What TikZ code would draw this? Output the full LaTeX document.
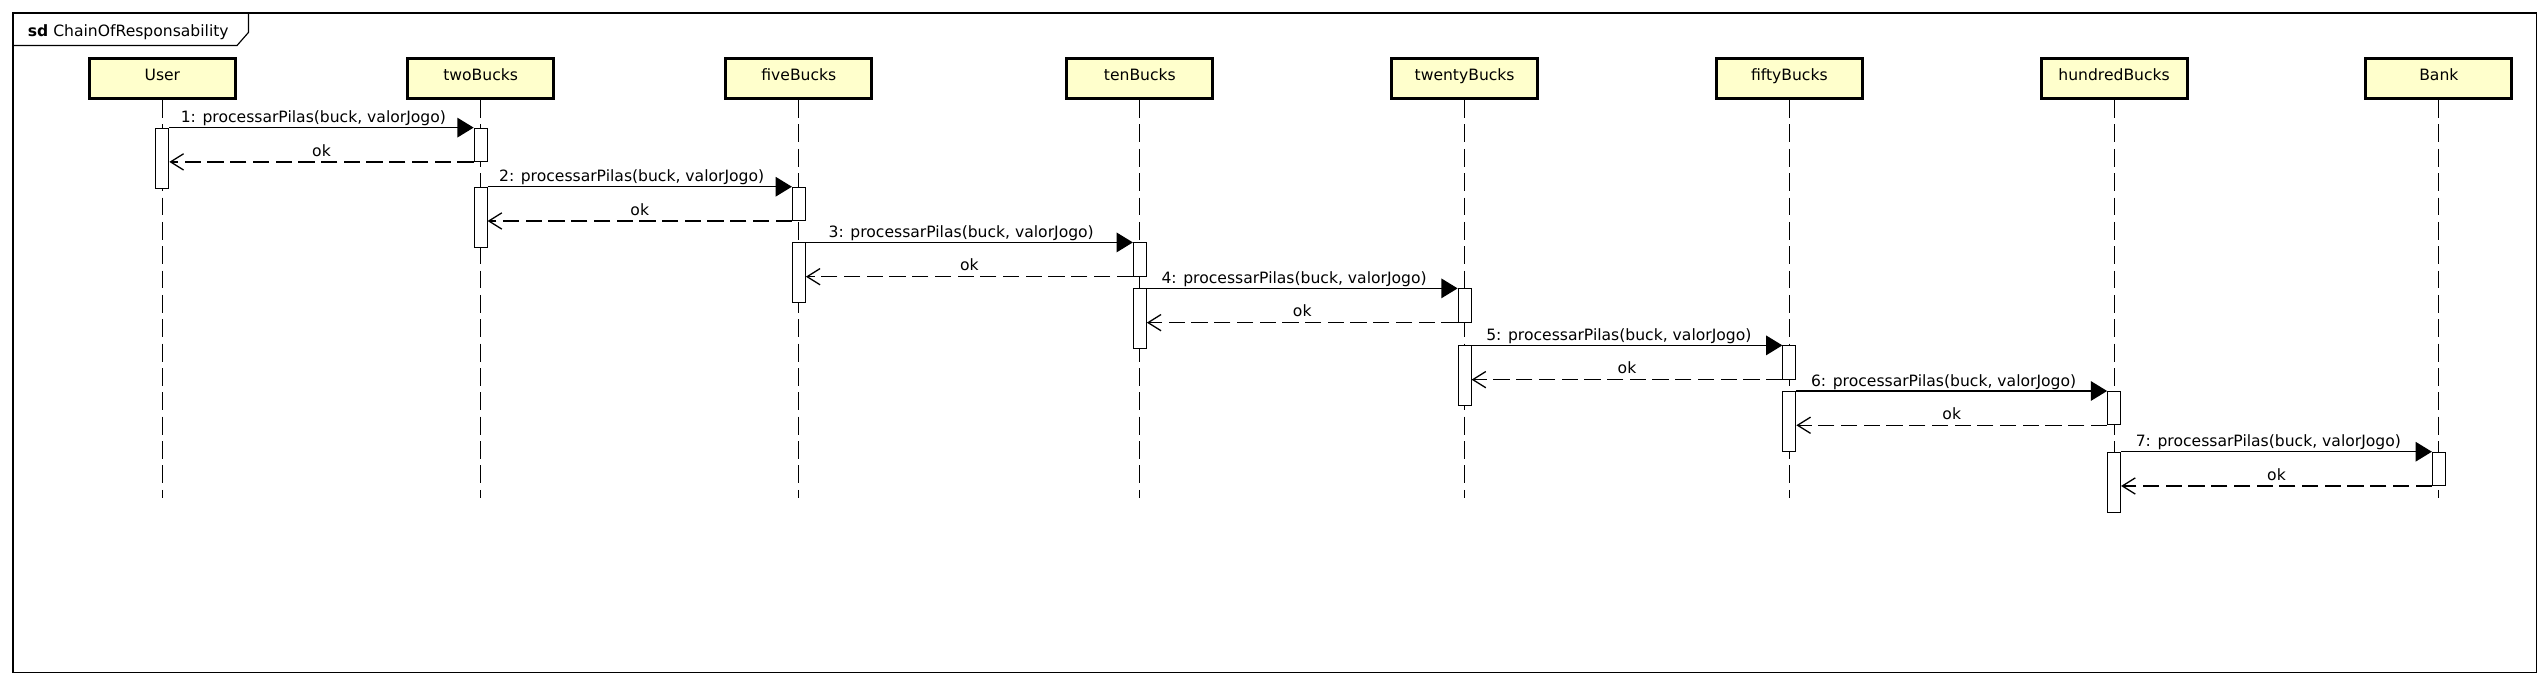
\documentclass[tikz,border=0pt]{standalone}
\usepackage{fontspec}
\setmainfont{DejaVu Sans}
\usetikzlibrary{arrows.meta}
\definecolor{headfill}{HTML}{FFFFCC}
\begin{document}
\begin{tikzpicture}[x=1pt,y=-1pt,
  every node/.style={font=\fontsize{9.6}{11}\selectfont, inner sep=0pt},
  headbox/.style={draw, line width=1.8pt, fill=headfill, minimum width=90pt,
    minimum height=24.5pt, text height=6pt, text depth=4.4pt},
  life/.style={line width=0.6pt, dash pattern=on 11pt off 4pt},
  act/.style={draw, line width=0.6pt, fill=white, minimum width=8pt, anchor=north},
  msg/.style={draw, line width=0.9pt, -{Triangle[length=10pt,width=12pt]}},
  ret/.style={draw, line width=0.8pt, dash pattern=on 10pt off 4pt,
    -{Straight Barb[length=8pt,width=10pt,line width=0.8pt]}},
  mlabel/.style={anchor=base, xshift=-5pt, yshift=3pt},
  rlabel/.style={anchor=base, yshift=3.5pt},
  frameline/.style={line width=0.7pt}]
\useasboundingbox[fill=white] (0,0) rectangle (1568,422);
% frame
\draw[frameline] (8,8) rectangle (1562,414);
\draw[frameline] (8,28) -- (146,28) -- (153,20) -- (153,8);
\node[anchor=base west] (title) at (17,22.6) {\textbf{sd} ChainOfResponsability};
% lifeline heads
\foreach \n/\t/\x in {user/User/100, two/twoBucks/296, five/fiveBucks/492,
  ten/tenBucks/702, twenty/twentyBucks/902, fifty/fiftyBucks/1102,
  hundred/hundredBucks/1302, bank/Bank/1502}{
  \node[headbox] (\n) at (\x,48.5) {\t};
  \coordinate (\n end) at (\x,307);
}
\coordinate (hundred end) at (1302,328);
\foreach \n in {user,two,five,ten,twenty,fifty,hundred,bank}{
  \draw[life] (\n.south) -- (\n end);
}
% messages
\foreach \i/\a/\b/\y in {1/user/two/78.6, 2/two/five/115, 3/five/ten/149.3,
  4/ten/twenty/177.6, 5/twenty/fifty/212.7, 6/fifty/hundred/240.8,
  7/hundred/bank/278.2}{
  \node[act, minimum height=37pt] (c\i) at (\a |- 0,\y) {};
  \node[act, minimum height=20.5pt] (r\i) at (\b |- 0,\y) {};
  \draw[msg] (c\i.north east) -- (r\i.north west)
    node[pos=0.5, mlabel] {\i: processarPilas(buck, valorJogo)};
  \draw[ret] (r\i.south west) -- (r\i.south west -| c\i.east)
    node[pos=0.5, rlabel] {ok};
}
\end{tikzpicture}
\end{document}
